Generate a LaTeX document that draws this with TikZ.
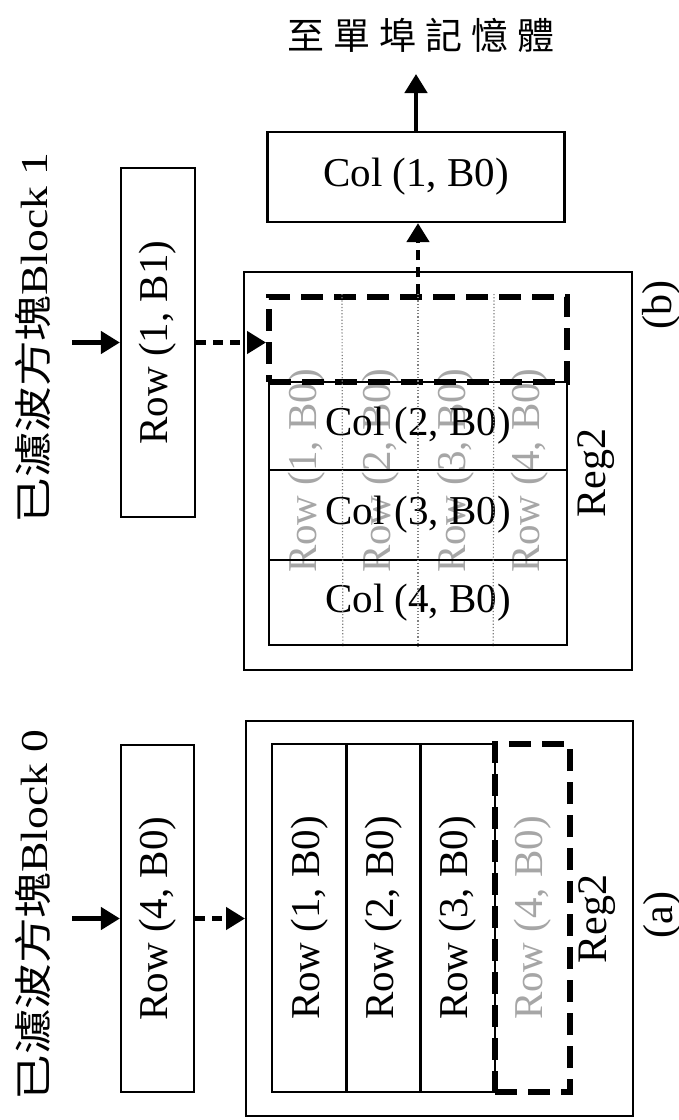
\documentclass[tikz,border=0pt]{standalone}
\usepackage{fontspec}
\setmainfont{Liberation Serif}
\newfontfamily\cjk{Noto Sans CJK TC}
\usepackage{graphicx}
\usetikzlibrary{arrows.meta,calc}
\tikzset{
  box/.style={draw, line width=2.2pt, rectangle, inner sep=0pt, font=\fontsize{41}{41}\selectfont},
  cell/.style={draw, line width=2.5pt, rectangle, inner sep=0pt, font=\fontsize{41}{41}\selectfont},
  outerbox/.style={draw, line width=2pt, rectangle, inner sep=0pt},
  dbox/.style={draw, line width=6pt, dash pattern=on 22pt off 11pt, rectangle, inner sep=0pt},
  ghost/.style={text=black!35, font=\fontsize{41}{41}\selectfont, inner sep=0pt},
  lbl/.style={font=\fontsize{42}{42}\selectfont, inner sep=0pt},
  blklbl/.style={inner sep=0pt},
  solidarrow/.style={line width=4.5pt, -{Triangle[length=19pt,width=22pt]}},
  dasharrow/.style={line width=4.5pt, dash pattern=on 10pt off 7pt, -{Triangle[length=19pt,width=22pt]}},
  gridline/.style={black!50, line width=1.2pt, dotted},
}
\begin{document}
\begin{tikzpicture}[x=1pt,y=-1pt]
\useasboundingbox (0,0) rectangle (679,1120);

% ---------------- (b) top half ----------------
\node[blklbl] (blk1) at (33,338) {\rotatebox{90}{\scalebox{1.2}[1]{\fontsize{38}{38}\selectfont{\cjk 已濾波方塊}Block 1}}};
\coordinate (in1) at (72,342.5);
\node[box, minimum width=74pt, minimum height=349pt] (r1b1) at (158,342.5) {\rotatebox{90}{Row (1, B1)}};
\draw[solidarrow] (in1) -- (r1b1.west);

\node[outerbox, minimum width=388pt, minimum height=398pt] (regb) at (438,471) {};
\node[ghost] (g1) at (306.25,471) {\rotatebox{90}{Row (1, B0)}};
\node[ghost] (g2) at (380.75,471) {\rotatebox{90}{Row (2, B0)}};
\node[ghost] (g3) at (455.25,471) {\rotatebox{90}{Row (3, B0)}};
\node[ghost] (g4) at (529.75,471) {\rotatebox{90}{Row (4, B0)}};

\node[cell, minimum width=298pt, minimum height=88pt] (c2) at (418,426) {Col (2, B0)};
\node[cell, minimum width=298pt, minimum height=90pt] (c3) at (418,515) {Col (3, B0)};
\node[cell, minimum width=298pt, minimum height=85pt] (c4) at (418,602.5) {Col (4, B0)};
\node[dbox, minimum width=298pt, minimum height=85pt] (dbb) at (418,339.5) {};
\foreach \f in {0.25,0.5,0.75}
  \draw[gridline] ($(dbb.north west)!\f!(dbb.north east)$) -- ($(c4.south west)!\f!(c4.south east)$);

\draw[dasharrow] (r1b1.east) -- (r1b1.east -| dbb.west);

\node[box, minimum width=297pt, minimum height=90pt] (c1) at (416,177) {Col (1, B0)};
\draw[dasharrow] (dbb.north) -- (dbb.north |- c1.south);
\coordinate (out) at (416,74);
\draw[solidarrow] (c1.north) -- (out);
\node[inner sep=0pt, font=\cjk\fontsize{37}{37}\selectfont] (mem) at (421,35) {至\hspace{9pt}單\hspace{9pt}埠\hspace{9pt}記\hspace{9pt}憶\hspace{9pt}體};

\node[lbl] (regbl) at (596,473) {\rotatebox{90}{Reg2}};
\node[lbl] (bl) at (661,305) {\rotatebox{90}{(b)}};

% ---------------- (a) bottom half ----------------
\node[blklbl] (blk0) at (33,915) {\rotatebox{90}{\scalebox{1.2}[1]{\fontsize{38}{38}\selectfont{\cjk 已濾波方塊}Block 0}}};
\coordinate (in0) at (72,918.5);
\node[box, minimum width=73pt, minimum height=347pt] (r4b0) at (157.5,918.5) {\rotatebox{90}{Row (4, B0)}};
\draw[solidarrow] (in0) -- (r4b0.west);

\node[outerbox, minimum width=387pt, minimum height=395pt] (rega) at (439.5,918.5) {};
\node[cell, minimum width=74.3pt, minimum height=348pt] (a1) at (309.2,918) {\rotatebox{90}{Row (1, B0)}};
\node[cell, minimum width=74.3pt, minimum height=348pt] (a2) at (383.5,918) {\rotatebox{90}{Row (2, B0)}};
\node[cell, minimum width=74.3pt, minimum height=348pt] (a3) at (457.8,918) {\rotatebox{90}{Row (3, B0)}};
\node[ghost] (g5) at (532.5,918) {\rotatebox{90}{Row (4, B0)}};
\node[dbox, minimum width=75pt, minimum height=348pt] (dba) at (532.5,918) {};
\draw[dasharrow] (r4b0.east) -- (rega.west);

\node[lbl] (regal) at (597,919) {\rotatebox{90}{Reg2}};
\node[lbl] (al) at (662,915) {\rotatebox{90}{(a)}};
\end{tikzpicture}
\end{document}
